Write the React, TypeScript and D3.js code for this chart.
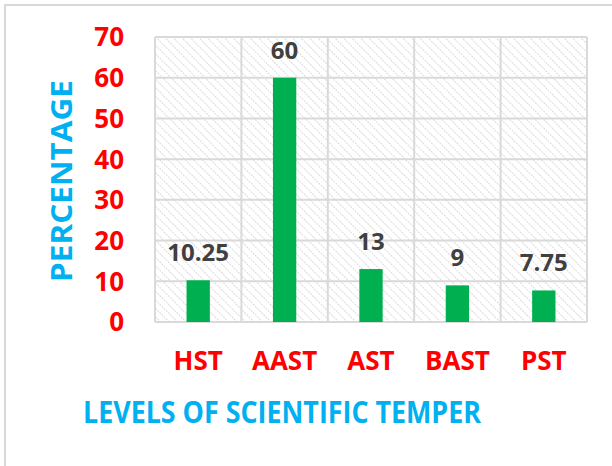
import React from 'react';
import * as d3 from 'd3';

const categories = ['HST', 'AAST', 'AST', 'BAST', 'PST'];
const values = [10.25, 60, 13, 9, 7.75];
const yTicks = [0, 10, 20, 30, 40, 50, 60, 70];

const W = 612;
const H = 466;
const margin = { top: 37, right: 25, bottom: 144, left: 155 };

export default function App() {
  const innerW = W - margin.left - margin.right;
  const innerH = H - margin.top - margin.bottom;

  const x = d3.scaleBand().domain(categories).range([0, innerW]).paddingInner(0.73).paddingOuter(0.365);
  const xEdge = d3.scaleLinear().domain([0, categories.length]).range([0, innerW]);
  const y = d3.scaleLinear().domain([0, 70]).range([innerH, 0]);

  const font = '"Open Sans", Lato, sans-serif';

  return (
    <svg width={W} height={H} style={{ position: 'absolute', left: 0, top: 0, background: '#fff' }}>
      <defs>
        <pattern id="hatch" width="6" height="6" patternUnits="userSpaceOnUse" patternTransform="rotate(-45)">
          <line x1="0" y1="0" x2="0" y2="6" stroke="#dadada" strokeWidth="2" strokeDasharray="2,1" />
        </pattern>
      </defs>
      <rect x={5} y={5} width={W} height={H} fill="none" stroke="#d9d9d9" strokeWidth={2} />
      <g transform={`translate(${margin.left},${margin.top})`}>
        <rect x={0} y={0} width={innerW} height={innerH} fill="url(#hatch)" />
        {yTicks.map(t => (
          <line key={'h' + t} x1={0} x2={innerW} y1={y(t)} y2={y(t)} stroke="#d9d9d9" strokeWidth={2} />
        ))}
        {d3.range(categories.length + 1).map(i => (
          <line key={'v' + i} x1={xEdge(i)} x2={xEdge(i)} y1={0} y2={innerH} stroke="#d9d9d9" strokeWidth={2} />
        ))}
        {categories.map((c, i) => (
          <rect key={c} x={x(c)} y={y(values[i])} width={x.bandwidth()} height={innerH - y(values[i])} fill="#00B050" />
        ))}
        {categories.map((c, i) => (
          <text key={'l' + c} x={(x(c) ?? 0) + x.bandwidth() / 2} y={y(values[i]) - 19}
            textAnchor="middle" fontFamily={font} fontWeight="bold" fontSize={24} fill="#404040">
            {values[i]}
          </text>
        ))}
        {yTicks.map(t => (
          <text key={'yt' + t} x={-31} y={y(t)} dy="0.36em" textAnchor="end"
            fontFamily={font} fontWeight="bold" fontSize={26} fill="#FF0000">
            {t}
          </text>
        ))}
        {categories.map(c => (
          <text key={'xt' + c} x={(x(c) ?? 0) + x.bandwidth() / 2} y={innerH + 48} textAnchor="middle"
            fontFamily={font} fontWeight="bold" fontSize={26} fill="#FF0000">
            {c}
          </text>
        ))}
      </g>
      <text transform={`translate(72,181) rotate(-90)`} textAnchor="middle" fontFamily={font}
        fontWeight="bold" fontSize={29} fill="#00B0F0" textLength={202} lengthAdjust="spacingAndGlyphs">
        PERCENTAGE
      </text>
      <text x={282} y={423} textAnchor="middle" fontFamily={font} fontWeight="bold" fontSize={31}
        fill="#00B0F0" textLength={398} lengthAdjust="spacingAndGlyphs">
        LEVELS OF SCIENTIFIC TEMPER
      </text>
    </svg>
  );
}
